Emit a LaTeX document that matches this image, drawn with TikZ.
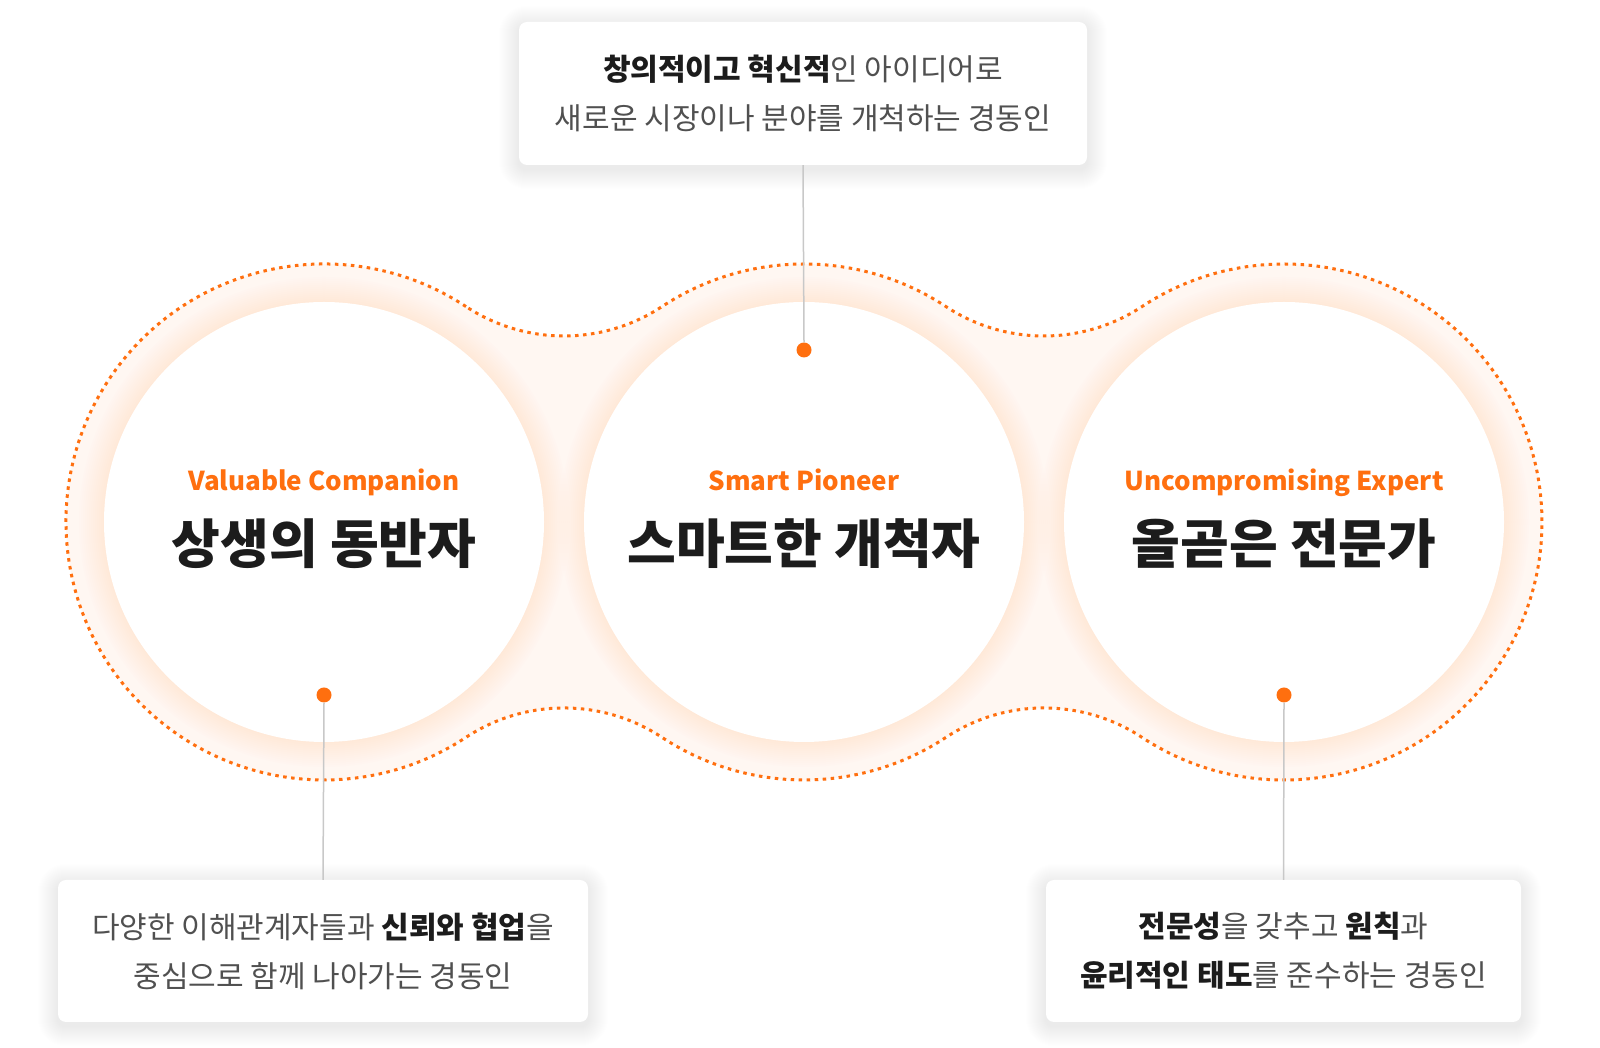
\documentclass[tikz,border=0pt]{standalone}
\usepackage{fontspec}
\setmainfont{Noto Sans CJK KR}
\definecolor{brand}{HTML}{FF6F0F}
\definecolor{peach}{HTML}{FFF7F2}
\definecolor{glow}{HTML}{FFC29A}
\definecolor{ink}{HTML}{1C1C1C}
\definecolor{body}{HTML}{505050}
\definecolor{wire}{HTML}{C8C8C8}
\newcommand{\keyword}[1]{{\color{ink}\bfseries #1}}
\pgfdeclarelayer{back}
\pgfsetlayers{back,main}

\begin{document}
\begin{tikzpicture}[x=1pt,y=1pt,
  disc/.style={circle,fill=white,minimum size=440pt,inner sep=0pt},
  card/.style={rectangle,rounded corners=8pt,fill=white,align=center,text=body,inner sep=0pt,
    font=\fontsize{30}{49}\selectfont},
  tag/.style={anchor=base,text=brand,font=\bfseries\fontsize{26}{30}\selectfont},
  headline/.style={text=ink,font=\bfseries\fontsize{53}{60}\selectfont},
  link/.style={wire,line width=1.5pt},
  pin/.style={circle,fill=brand,minimum size=15pt,inner sep=0pt}]
\useasboundingbox (0,0) rectangle (1600,1048);

% three rings joined by concave necks
\fill[peach] (466.0,741.4) arc[start angle=56.6,end angle=303.4,radius=258]
  arc[start angle=123.4,end angle=56.6,radius=178]
  arc[start angle=236.6,end angle=303.4,radius=258]
  arc[start angle=123.4,end angle=56.6,radius=178]
  arc[start angle=236.6,end angle=483.4,radius=258]
  arc[start angle=303.4,end angle=236.6,radius=178]
  arc[start angle=56.6,end angle=123.4,radius=258]
  arc[start angle=303.4,end angle=236.6,radius=178] -- cycle;
\foreach \cx in {324,804,1284}
  \foreach \r in {221,223,...,245}
    \fill[glow,opacity=0.018] (\cx,526) circle[radius=\r];

\node[disc] (companion) at (324,526) {};
\node[disc] (pioneer) at (804,526) {};
\node[disc] (expert) at (1284,526) {};

\draw[brand,line width=3pt,dash pattern=on 3.5pt off 4.5pt]
  (466.0,741.4) arc[start angle=56.6,end angle=303.4,radius=258]
  arc[start angle=123.4,end angle=56.6,radius=178]
  arc[start angle=236.6,end angle=303.4,radius=258]
  arc[start angle=123.4,end angle=56.6,radius=178]
  arc[start angle=236.6,end angle=483.4,radius=258]
  arc[start angle=303.4,end angle=236.6,radius=178]
  arc[start angle=56.6,end angle=123.4,radius=258]
  arc[start angle=303.4,end angle=236.6,radius=178] -- cycle;

\node[tag] (companiontag) at (324,557) {Valuable Companion};
\node[headline] (companionname) at (324,504) {상생의 동반자};
\node[tag] (pioneertag) at (804,557) {Smart Pioneer};
\node[headline] (pioneername) at (804,504) {스마트한 개척자};
\node[tag] (experttag) at (1284,557) {Uncompromising Expert};
\node[headline] (expertname) at (1284,504) {올곧은 전문가};

\node[card,minimum width=568pt,minimum height=143pt] (topbox) at (803,954.5)
  {\keyword{창의적이고 혁신적}인 아이디어로\\새로운 시장이나 분야를 개척하는 경동인};
\node[card,minimum width=530pt,minimum height=142pt] (leftbox) at (323,97)
  {다양한 이해관계자들과 \keyword{신뢰와 협업}을\\중심으로 함께 나아가는 경동인};
\node[card,minimum width=475pt,minimum height=142pt] (rightbox) at (1283.5,97)
  {\keyword{전문성}을 갖추고 \keyword{원칙}과\\\keyword{윤리적인 태도}를 준수하는 경동인};

% soft shadows under the cards
\begin{pgfonlayer}{back}
\fill[white] (0,0) rectangle (1600,1048);
\foreach \cardname in {topbox,leftbox,rightbox}
  \foreach \s in {1,...,20}
    \fill[black,opacity=0.0035,rounded corners=8+\s]
      ([shift={(-\s,-\s-4)}]\cardname.south west) rectangle ([shift={(\s,\s-4)}]\cardname.north east);
\end{pgfonlayer}

\node[pin] (pioneerpin) at (804,698) {};
\node[pin] (companionpin) at (324,353) {};
\node[pin] (expertpin) at (1284,353) {};

\draw[link] (topbox.south) -- (pioneerpin.north);
\draw[link] (companionpin.south) -- (leftbox.north);
\draw[link] (expertpin.south) -- (rightbox.north);
\end{tikzpicture}
\end{document}
